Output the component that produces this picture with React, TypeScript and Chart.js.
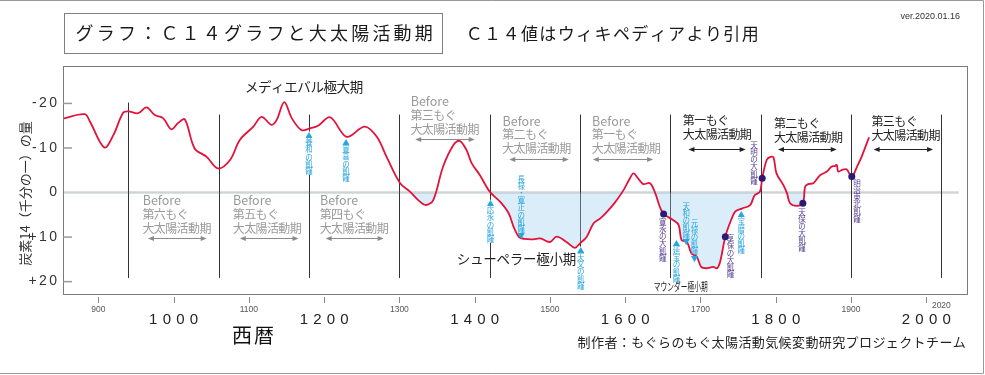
import React, { useEffect, useRef } from 'react';
import { Chart, registerables } from 'chart.js';

Chart.register(...registerables);

const JP = '"Noto Sans CJK JP", "Noto Sans", sans-serif';
const LAT = '"Liberation Sans", Arial, sans-serif';

// ---- data ----
const years = [
  853, 882, 889, 908, 920, 933, 940, 953, 964, 975,
  986, 997, 1006, 1015, 1028, 1044, 1059, 1075, 1088, 1106,
  1117, 1130, 1137, 1147, 1157, 1170, 1181, 1192, 1208, 1230,
  1254, 1270, 1283, 1301, 1314, 1325, 1335, 1345, 1358, 1372,
  1380, 1389, 1396, 1407, 1420, 1434, 1445, 1452, 1459, 1466,
  1478, 1487, 1500, 1509, 1522, 1533, 1540, 1549, 1558, 1567,
  1576, 1587, 1598, 1605, 1611, 1617, 1624, 1633, 1640, 1646,
  1651, 1664, 1671, 1675, 1682, 1688, 1695, 1701, 1708, 1717,
  1722, 1726, 1733, 1739, 1746, 1755, 1766, 1772, 1779, 1782,
  1788, 1793, 1797, 1801, 1810, 1815, 1819, 1828, 1836, 1839,
  1843, 1850, 1859, 1868, 1874, 1879, 1881, 1883, 1888, 1894,
  1901, 1908, 1914, 1921, 1924,
];
const c14 = [
  -16.6, -17.6, -15.9, -10.1, -12.9, -17.9, -18.2, -17.8, -19.1, -17.4,
  -16.7, -14.2, -15.6, -16.4, -9.9, -8.0, -5.4, -7.3, -11.8, -14.8,
  -17.0, -15.2, -16.3, -20.3, -16.7, -14.0, -14.4, -15.0, -16.9, -12.5,
  -14.8, -12.5, -8.0, -2.1, -0.2, 1.7, 2.8, 1.7, -5.8, -10.7,
  -11.6, -9.6, -6.6, -3.9, -0.2, 2.1, 4.6, 7.8, 10.0, 10.4,
  10.5, 10.3, 11.1, 9.9, 11.1, 12.4, 11.4, 9.9, 6.9, 5.8,
  4.3, 2.1, -0.6, -2.8, -4.3, -3.2, -1.9, -2.1, 0.2, 3.2,
  4.8, 6.2, 7.3, 10.7, 11.1, 13.7, 14.4, 16.7, 17.0, 16.7,
  17.0, 15.6, 9.9, 6.9, 4.3, 3.6, 2.8, 0.6, -0.2, -3.2,
  -7.3, -8.0, -7.9, -4.3, -1.7, 0.2, 2.4, 3.0, 2.4, -1.3,
  -1.9, -2.1, -3.9, -4.7, -5.8, -6.0, -6.2, -4.7, -5.1, -5.2,
  -3.6, -5.8, -8.0, -11.1, -12.4,
];
const famineYears = [1651, 1733, 1782, 1836, 1901];
const famineValues = [4.8, 9.9, -3.2, 2.4, -3.6];
const periodBoundaries = [940, 1060, 1180, 1300, 1420, 1540, 1660, 1780, 1900, 2020];
const centuryTicks = [900, 1000, 1100, 1200, 1300, 1400, 1500, 1600, 1700, 1800, 1900, 2000];
const smallTickYears = [900, 1100, 1300, 1500, 1700, 1900, 2020];
const smallTickLabels = ['900', '1100', '1300', '1500', '1700', '1900', '2020'];
const bigTickYears = [1000, 1200, 1400, 1600, 1800, 2000];
const bigTickLabels = ['1000', '1200', '1400', '1600', '1800', '2000'];
const yTickValues = [-20, -10, 0, 10, 20];
const yTickLabels = ['-20', '-10', '0', '+10', '+20'];

// ---- annotation config (anchored in data coordinates) ----
const GRAY = '#9a9a9a';
const DARK = '#222222';
const CYAN = '#2aa6df';
const PURPLE = '#5a4596';

const blocks = [
  { lines: ['Before', '第六もぐ', '大太陽活動期'], x: 959, y: 1.8, a: [966, 1044], ay: 10.2, color: GRAY },
  { lines: ['Before', '第五もぐ', '大太陽活動期'], x: 1079, y: 1.8, a: [1088, 1166], ay: 10.2, color: GRAY },
  { lines: ['Before', '第四もぐ', '大太陽活動期'], x: 1194.5, y: 1.8, a: [1202, 1279], ay: 10.2, color: GRAY },
  { lines: ['Before', '第三もぐ', '大太陽活動期'], x: 1315, y: -20.4, a: [1321, 1400], ay: -12.1, color: GRAY },
  { lines: ['Before', '第二もぐ', '大太陽活動期'], x: 1437, y: -16.1, a: [1446, 1525], ay: -7.5, color: GRAY },
  { lines: ['Before', '第一もぐ', '大太陽活動期'], x: 1556, y: -16.1, a: [1557, 1637], ay: -7.5, color: GRAY },
  { lines: ['第一もぐ', '大太陽活動期'], x: 1677, y: -16.1, a: [1684, 1760], ay: -9.7, color: DARK },
  { lines: ['第二もぐ', '大太陽活動期'], x: 1798, y: -15.6, a: [1803, 1881], ay: -9.7, color: DARK },
  { lines: ['第三もぐ', '大太陽活動期'], x: 1927.5, y: -15.9, a: [1930, 2009], ay: -9.7, color: DARK },
];

const vnotes = [
  { text: '▲養和の飢饉', x: 1180, y: -12.9, color: CYAN, bg: true },
  { text: '▲寛喜の飢饉', x: 1229, y: -11.3, color: CYAN, bg: false },
  { text: '▲応永の飢饉', x: 1421, y: 2.4, color: CYAN, bg: true },
  { text: '長禄・寛正の飢饉▼', x: 1462, y: -3.1, color: CYAN, bg: false },
  { text: '▲天文の飢饉', x: 1541, y: 12.9, color: CYAN, bg: true },
  { text: '天和の飢饉▼', x: 1681, y: 3.0, color: CYAN, bg: false },
  { text: '元禄の飢饉▼', x: 1692, y: 6.8, color: CYAN, bg: false },
  { text: '▲延宝の飢饉', x: 1668, y: 11.3, color: CYAN, bg: false },
  { text: '▲宝暦の飢饉', x: 1754, y: 4.9, color: CYAN, bg: false },
  { text: '寛永の大飢饉', x: 1650, y: 6.6, color: PURPLE, bg: false },
  { text: '享保の大飢饉', x: 1740, y: 10.3, color: PURPLE, bg: false },
  { text: '天明の大飢饉', x: 1771, y: -10.7, color: PURPLE, bg: false },
  { text: '天保の大飢饉', x: 1835, y: 4.3, color: PURPLE, bg: false },
  { text: '明治東北飢饉', x: 1908, y: -2.2, color: PURPLE, bg: false },
];

function drawCells(ctx: CanvasRenderingContext2D, text: string, left: number, y: number, adv: number) {
  const chars = Array.from(text);
  ctx.textAlign = 'center';
  chars.forEach((ch, i) => ctx.fillText(ch, left + adv * (i + 0.5), y));
}

function drawSpaced(ctx: CanvasRenderingContext2D, text: string, x: number, y: number, gap: number, align: 'left' | 'right' | 'center') {
  const chars = Array.from(text);
  const widths = chars.map((c) => ctx.measureText(c).width);
  const total = widths.reduce((a, b) => a + b, 0) + gap * (chars.length - 1);
  let cx = align === 'left' ? x : align === 'right' ? x - total : x - total / 2;
  ctx.textAlign = 'left';
  chars.forEach((c, i) => {
    ctx.fillText(c, cx, y);
    cx += widths[i] + gap;
  });
}

function dblArrow(ctx: CanvasRenderingContext2D, x1: number, x2: number, y: number, color: string) {
  const yy = Math.round(y) + 0.5;
  ctx.strokeStyle = color;
  ctx.fillStyle = color;
  ctx.lineWidth = 1;
  ctx.beginPath();
  ctx.moveTo(x1 + 3, yy);
  ctx.lineTo(x2 - 3, yy);
  ctx.stroke();
  ctx.beginPath();
  ctx.moveTo(x1, yy);
  ctx.lineTo(x1 + 6, yy - 2.5);
  ctx.lineTo(x1 + 6, yy + 2.5);
  ctx.closePath();
  ctx.fill();
  ctx.beginPath();
  ctx.moveTo(x2, yy);
  ctx.lineTo(x2 - 6, yy - 2.5);
  ctx.lineTo(x2 - 6, yy + 2.5);
  ctx.closePath();
  ctx.fill();
}

const overlay = {
  id: 'overlay',
  beforeDatasetsDraw(chart: any) {
    const { ctx, chartArea: a, scales } = chart;
    const xs = scales.x;
    const ys = scales.y;
    ctx.save();
    // zero line
    ctx.strokeStyle = '#d4d4d4';
    ctx.lineWidth = 2.5;
    ctx.beginPath();
    const y0 = ys.getPixelForValue(0);
    ctx.moveTo(a.left, y0);
    ctx.lineTo(xs.getPixelForValue(2043), y0);
    ctx.stroke();
    // period boundary lines
    ctx.strokeStyle = '#333';
    ctx.lineWidth = 1;
    periodBoundaries.forEach((b, i) => {
      const x = Math.round(xs.getPixelForValue(b)) + 0.5;
      ctx.beginPath();
      ctx.moveTo(x, ys.getPixelForValue(i === 0 ? -20.2 : -17.5));
      ctx.lineTo(x, ys.getPixelForValue(19.2));
      ctx.stroke();
    });
    ctx.restore();
  },
  afterDatasetsDraw(chart: any) {
    const { ctx, chartArea: a, scales, width, height } = chart;
    const xs = scales.x;
    const ys = scales.y;
    ctx.save();
    ctx.textBaseline = 'middle';

    // plot box
    ctx.strokeStyle = '#7a7a7a';
    ctx.lineWidth = 1;
    ctx.strokeRect(a.left + 0.5, a.top + 0.5, a.right - a.left - 1, a.bottom - a.top - 1);

    // y ticks
    ctx.strokeStyle = '#999';
    ctx.lineWidth = 1.5;
    ctx.fillStyle = '#333';
    ctx.font = `14px ${LAT}`;
    yTickValues.forEach((v, i) => {
      const y = ys.getPixelForValue(v);
      if (v !== 0) {
        ctx.beginPath();
        ctx.moveTo(a.left, y);
        ctx.lineTo(a.left + 9, y);
        ctx.stroke();
      }
      drawSpaced(ctx, yTickLabels[i], a.left - 6, y, 2.4, 'right');
    });

    // x ticks
    ctx.strokeStyle = '#888';
    ctx.lineWidth = 1;
    centuryTicks.forEach((t) => {
      const x = Math.round(xs.getPixelForValue(t)) + 0.5;
      ctx.beginPath();
      ctx.moveTo(x, a.bottom + 2);
      ctx.lineTo(x, a.bottom + 8);
      ctx.stroke();
    });
    ctx.fillStyle = '#555';
    ctx.font = `8.5px ${LAT}`;
    ctx.textAlign = 'center';
    smallTickYears.forEach((t, i) => {
      ctx.fillText(smallTickLabels[i], xs.getPixelForValue(t), a.bottom + (t === 2020 ? 11 : 15));
    });
    ctx.fillStyle = '#222';
    ctx.font = `15px ${LAT}`;
    bigTickYears.forEach((t, i) => {
      drawSpaced(ctx, bigTickLabels[i], xs.getPixelForValue(t), a.bottom + 25, 5.2, 'center');
    });

    // x axis title
    ctx.fillStyle = '#111';
    ctx.font = `20px ${JP}`;
    drawCells(ctx, '西暦', 231, a.bottom + 40, 22);

    // y axis title
    ctx.save();
    ctx.translate(25, 193.5);
    ctx.rotate(-Math.PI / 2);
    ctx.fillStyle = '#333';
    ctx.font = `13px ${JP}`;
    ctx.textAlign = 'center';
    ctx.fillText('炭素14（千分の一）の量', 0, 0);
    ctx.restore();

    // blocks
    blocks.forEach((b) => {
      const left = xs.getPixelForValue(b.x);
      const top = ys.getPixelForValue(b.y);
      ctx.fillStyle = b.color;
      b.lines.forEach((ln, i) => {
        const y = top + i * 14;
        if (ln === 'Before') {
          ctx.font = `12.5px ${JP}`;
          ctx.textAlign = 'left';
          ctx.fillText(ln, left, y);
        } else {
          ctx.font = `12px ${JP}`;
          drawCells(ctx, ln, left, y, 11.4);
        }
      });
      dblArrow(ctx, xs.getPixelForValue(b.a[0]), xs.getPixelForValue(b.a[1]), ys.getPixelForValue(b.ay), b.color === GRAY ? '#8a8a8a' : '#222');
    });

    // vertical notes
    ctx.font = `7.5px ${JP}`;
    ctx.textAlign = 'center';
    vnotes.forEach((n) => {
      const x = xs.getPixelForValue(n.x);
      const y0 = ys.getPixelForValue(n.y);
      const chars = Array.from(n.text);
      const step = 7.2;
      if (n.bg) {
        ctx.fillStyle = '#fff';
        ctx.fillRect(x - 3, y0 - 3.5, 6, step * chars.length);
      }
      ctx.fillStyle = n.color;
      chars.forEach((c, i) => ctx.fillText(c, x, y0 + i * step));
    });

    // named period labels
    ctx.fillStyle = '#222';
    ctx.font = `13.5px ${JP}`;
    drawCells(ctx, 'メディエバル極大期', xs.getPixelForValue(1095), ys.getPixelForValue(-23.8), 13.1);
    drawCells(ctx, 'シューペラー極小期', xs.getPixelForValue(1376.5), ys.getPixelForValue(15.0), 13.25);
    ctx.font = `11px ${JP}`;
    ctx.textAlign = 'left';
    ctx.fillText('マウンダー極小期', xs.getPixelForValue(1638), ys.getPixelForValue(21.2), 54);

    // title area
    ctx.strokeStyle = '#808080';
    ctx.lineWidth = 1;
    ctx.strokeRect(64.5, 13.5, 378, 40);
    ctx.fillStyle = '#1a1a1a';
    ctx.font = `18px ${JP}`;
    drawCells(ctx, 'グラフ：Ｃ１４グラフと大太陽活動期', 74, 33.5, 21.2);
    ctx.font = `17px ${JP}`;
    drawCells(ctx, 'Ｃ１４値はウィキペディアより引用', 465, 33.5, 18.4);
    ctx.fillStyle = '#333';
    ctx.font = `9px ${LAT}`;
    ctx.textAlign = 'right';
    ctx.fillText('ver.2020.01.16', 960, 17);

    // credit
    ctx.fillStyle = '#222';
    ctx.font = `13px ${JP}`;
    const credit = '制作者：もぐらのもぐ太陽活動気候変動研究プロジェクトチーム';
    drawCells(ctx, credit, 966 - Array.from(credit).length * 13.4, 342, 13.4);

    // outer frame
    ctx.strokeStyle = '#999';
    ctx.lineWidth = 1;
    ctx.beginPath();
    ctx.moveTo(0, 0.5);
    ctx.lineTo(width - 1.5, 0.5);
    ctx.lineTo(width - 1.5, height - 1.5);
    ctx.lineTo(0, height - 1.5);
    ctx.stroke();

    ctx.restore();
  },
};

export default function App() {
  const ref = useRef<HTMLCanvasElement>(null);
  useEffect(() => {
    const canvas = ref.current;
    if (!canvas) return;
    const chart = new Chart(canvas, {
      type: 'line',
      data: {
        datasets: [
          {
            label: 'C14',
            data: years.map((yr, i) => ({ x: yr, y: c14[i] })),
            borderColor: '#e2123a',
            borderWidth: 1.8,
            pointRadius: 0,
            tension: 0.35,
            fill: { target: { value: 0 }, above: 'rgba(0,0,0,0)', below: 'rgba(152,204,235,0.35)' },
            order: 2,
          },
          {
            label: 'famines',
            data: famineYears.map((yr, i) => ({ x: yr, y: famineValues[i] })),
            showLine: false,
            pointRadius: 3.5,
            pointBackgroundColor: '#2e1a75',
            pointBorderColor: '#2e1a75',
            pointBorderWidth: 0,
            order: 1,
          },
        ],
      },
      options: {
        animation: false,
        responsive: false,
        devicePixelRatio: 1,
        layout: { padding: { left: 63, right: 17, top: 66, bottom: 80 } },
        scales: {
          x: { type: 'linear', min: 853.1, max: 2055.4, display: false },
          y: { type: 'linear', min: -28.4, max: 23.0, reverse: true, display: false },
        },
        plugins: { legend: { display: false }, tooltip: { enabled: false } },
        events: [],
      },
      plugins: [overlay],
    } as any);
    return () => chart.destroy();
  }, []);
  return (
    <div style={{ position: 'absolute', left: 0, top: 0, width: 985, height: 375, background: '#fff' }}>
      <canvas ref={ref} width={985} height={375} style={{ display: 'block', width: 985, height: 375 }} />
    </div>
  );
}
